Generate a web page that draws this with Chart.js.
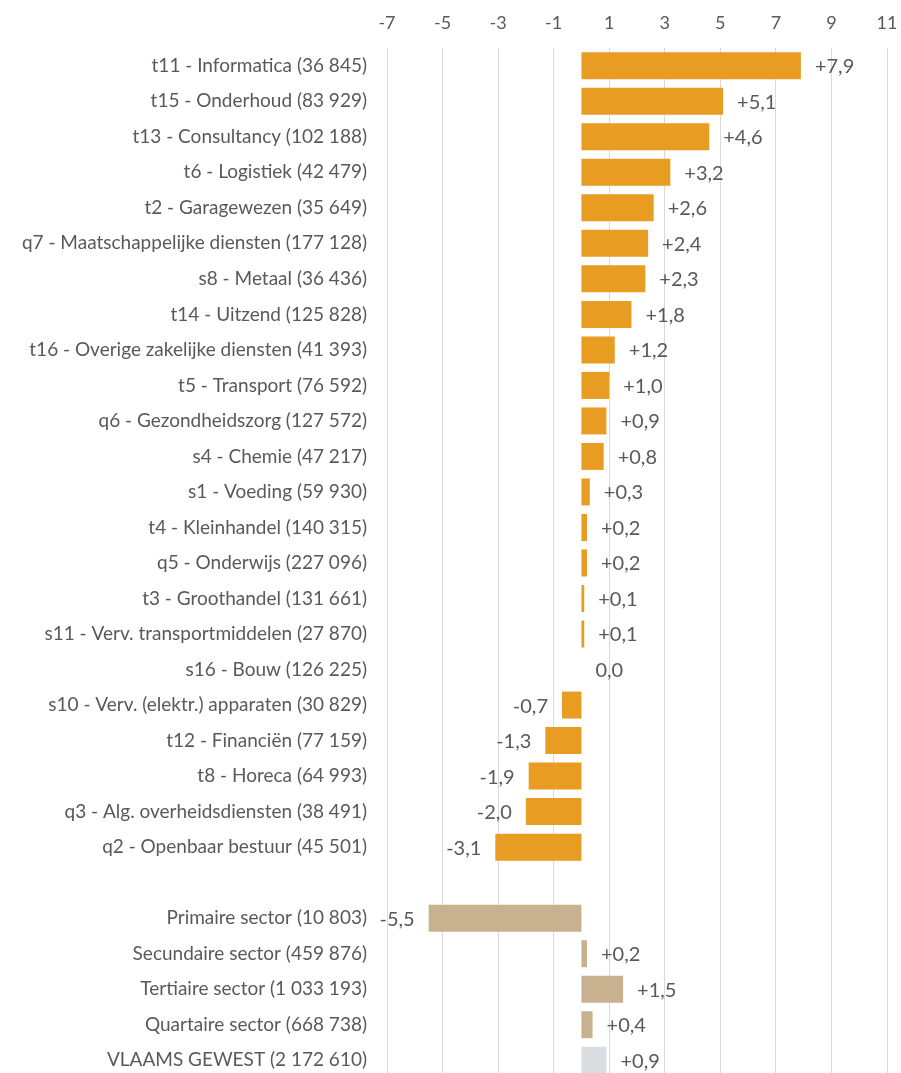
<!DOCTYPE html>
<html>
<head>
<meta charset="utf-8">
<script src="https://cdn.jsdelivr.net/npm/chart.js@4/dist/chart.umd.min.js"></script>
<style>
    html, body { margin: 0; padding: 0; background: #fff; overflow: hidden; }
    #wrap { width: 901px; height: 1078px; position: relative; }
    canvas { display: block; }
</style>
</head>
<body>
<div id="wrap"><canvas id="chart"></canvas></div>
<script>
const categories = [
    "t11 - Informatica (36 845)",
    "t15 - Onderhoud (83 929)",
    "t13 - Consultancy (102 188)",
    "t6 - Logistiek (42 479)",
    "t2 - Garagewezen (35 649)",
    "q7 - Maatschappelijke diensten (177 128)",
    "s8 - Metaal (36 436)",
    "t14 - Uitzend (125 828)",
    "t16 - Overige zakelijke diensten (41 393)",
    "t5 - Transport (76 592)",
    "q6 - Gezondheidszorg (127 572)",
    "s4 - Chemie (47 217)",
    "s1 - Voeding (59 930)",
    "t4 - Kleinhandel (140 315)",
    "q5 - Onderwijs (227 096)",
    "t3 - Groothandel (131 661)",
    "s11 - Verv. transportmiddelen (27 870)",
    "s16 - Bouw (126 225)",
    "s10 - Verv. (elektr.) apparaten (30 829)",
    "t12 - Financiën (77 159)",
    "t8 - Horeca (64 993)",
    "q3 - Alg. overheidsdiensten (38 491)",
    "q2 - Openbaar bestuur (45 501)",
    "",
    "Primaire sector (10 803)",
    "Secundaire sector (459 876)",
    "Tertiaire sector (1 033 193)",
    "Quartaire sector (668 738)",
    "VLAAMS GEWEST (2 172 610)"
];

const growth = [7.9, 5.1, 4.6, 3.2, 2.6, 2.4, 2.3, 1.8, 1.2, 1.0, 0.9, 0.8, 0.3, 0.2, 0.2, 0.1, 0.1, 0.0,
    -0.7, -1.3, -1.9, -2.0, -3.1, null, -5.5, 0.2, 1.5, 0.4, 0.9];

// kind of row: sector, total or the rest
const rowKind = categories.map(c => {
    if (c.startsWith("VLAAMS")) return "total";
    if (c.includes("sector")) return "sector";
    return "branch";
});

const xTicks = [-7, -5, -3, -1, 1, 3, 5, 7, 9, 11];

const COLORS = { branch: "#E89C22", sector: "#C8B18E", total: "#D8DDE1" };
const TEXT = "#595959";
const FONT = "Lato, 'Open Sans', sans-serif";

function formatValue(v) {
    const s = Math.abs(v).toFixed(1).replace(".", ",");
    if (v > 0) return "+" + s;
    if (v < 0) return "-" + s;
    return s;
}

const valueLabels = {
    id: "valueLabels",
    afterDatasetsDraw(chart) {
        const ctx = chart.ctx;
        const meta = chart.getDatasetMeta(0);
        const zero = chart.scales.x.getPixelForValue(0);
        ctx.save();
        ctx.font = "20px " + FONT;
        ctx.fillStyle = TEXT;
        ctx.textBaseline = "middle";
        meta.data.forEach((bar, i) => {
            const v = growth[i];
            if (v === null) return;
            const y = bar.y + 1;
            if (v < 0) {
                ctx.textAlign = "right";
                ctx.fillText(formatValue(v), Math.min(bar.x, zero) - 14, y);
            } else {
                ctx.textAlign = "left";
                ctx.fillText(formatValue(v), Math.max(bar.x, zero) + 14, y);
            }
        });
        ctx.restore();
    }
};

new Chart(document.getElementById("chart"), {
    type: "bar",
    data: {
        labels: categories,
        datasets: [{
            data: growth,
            backgroundColor: rowKind.map(k => COLORS[k]),
            borderWidth: 0,
            barPercentage: 0.76,
            categoryPercentage: 1.0
        }]
    },
    options: {
        indexAxis: "y",
        responsive: true,
        maintainAspectRatio: false,
        animation: false,
        layout: { padding: { top: 0, right: 14, bottom: 0, left: 0 } },
        plugins: {
            legend: { display: false },
            tooltip: { enabled: false }
        },
        scales: {
            x: {
                position: "top",
                min: -7,
                max: 11,
                afterBuildTicks(scale) {
                    scale.ticks = xTicks.map(v => ({ value: v }));
                },
                afterFit(scale) {
                    scale.height = 48;
                    scale.paddingLeft = 0;
                    scale.paddingRight = 0;
                },
                grid: { color: "#D9D9D9", lineWidth: 1, drawTicks: false },
                border: { display: false },
                ticks: {
                    color: TEXT,
                    padding: 14,
                    font: { family: FONT, size: 18 },
                    callback: v => String(v)
                }
            },
            y: {
                afterFit(scale) {
                    scale.width = 387;
                    scale.paddingTop = 0;
                    scale.paddingBottom = 0;
                },
                grid: { display: false, drawTicks: false },
                border: { display: false },
                ticks: {
                    color: TEXT,
                    padding: 20,
                    autoSkip: false,
                    font: { family: FONT, size: 19 }
                }
            }
        }
    },
    plugins: [valueLabels]
});
</script>
</body>
</html>
